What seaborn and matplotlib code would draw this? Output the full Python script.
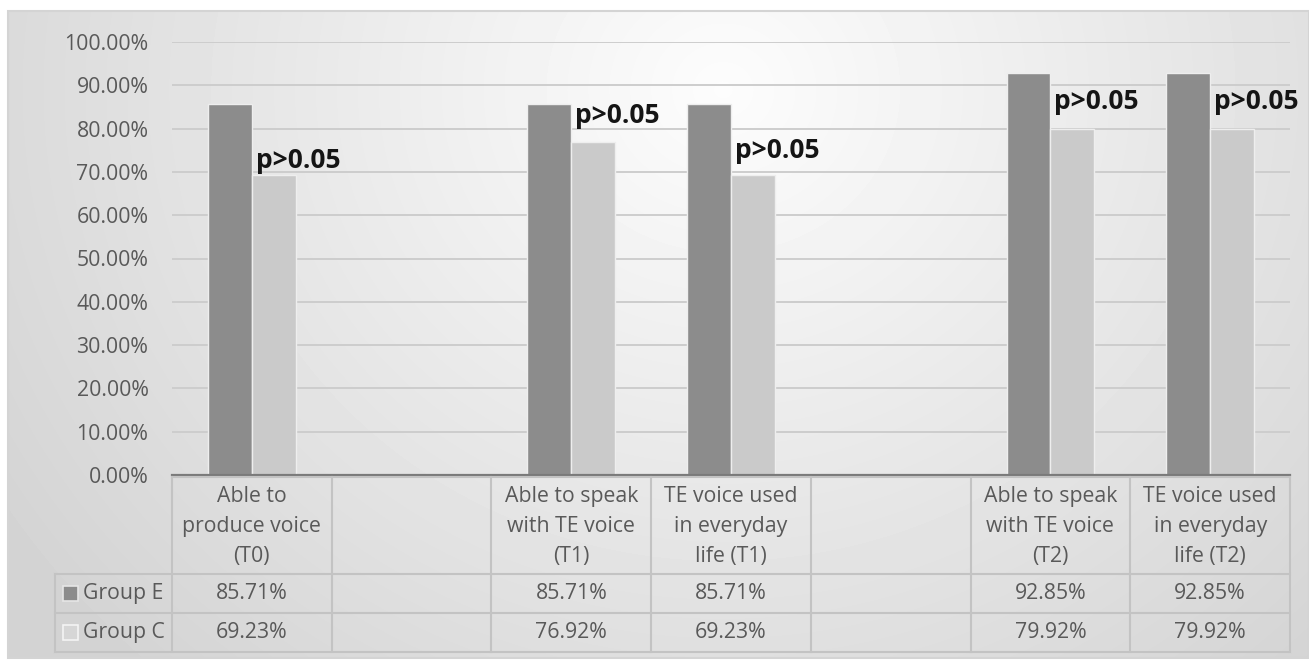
import numpy as np
import pandas as pd
import matplotlib
matplotlib.use("Agg")
import matplotlib.pyplot as plt
import matplotlib.transforms as mtransforms
from matplotlib.patches import Rectangle
from matplotlib.lines import Line2D
import seaborn as sns

# ---------------- data ----------------
categories = [
    "Able to\nproduce voice\n(T0)",
    "",
    "Able to speak\nwith TE voice\n(T1)",
    "TE voice used\nin everyday\nlife (T1)",
    " ",
    "Able to speak\nwith TE voice\n(T2)",
    "TE voice used\nin everyday\nlife (T2)",
]
real_categories = [categories[0], categories[2], categories[3], categories[5], categories[6]]
group_e = [0.8571, 0.8571, 0.8571, 0.9285, 0.9285]
group_c = [0.6923, 0.7692, 0.6923, 0.7992, 0.7992]
series_names = ["Group E", "Group C"]
p_labels = ["p>0.05", "p>0.05", "p>0.05", "p>0.05", "p>0.05"]
yticks = [0.0, 0.1, 0.2, 0.3, 0.4, 0.5, 0.6, 0.7, 0.8, 0.9, 1.0]

df = pd.DataFrame({
    "category": real_categories * 2,
    "group": [series_names[0]] * len(real_categories) + [series_names[1]] * len(real_categories),
    "value": group_e + group_c,
})

# ---------------- style ----------------
plt.rcParams["font.family"] = ["Open Sans", "DejaVu Sans"]
TXT = "#595959"
COL_E = "#8c8c8c"
COL_C = "#cacaca"
GRID = "#cdcdcd"
TABLE_LINE = "#c3c3c3"

W, H = 1309, 661
fig = plt.figure(figsize=(W / 100, H / 100), dpi=100)
fig.patch.set_facecolor("white")

def fx(x):
    return x / W

def fy(y):
    return 1 - y / H

# background radial gradient (chart area)
bg = fig.add_axes([fx(8), fy(658), fx(1301), (658 - 11) / H], zorder=-5)
gx, gy = np.meshgrid(np.linspace(0, 1, 400), np.linspace(0, 1, 200))
r = np.sqrt(((gx - 0.55) / 0.62) ** 2 + ((gy - 0.12) / 1.15) ** 2)
shade = np.clip(0.99 - 0.15 * r, 0.83, 0.99)
bg.imshow(shade, cmap="gray", vmin=0, vmax=1, aspect="auto",
          extent=[0, 1, 1, 0], interpolation="bilinear")
bg.set_xlim(0, 1)
bg.set_ylim(1, 0)
bg.axis("off")
bg.add_patch(Rectangle((0, 0), 1, 1, transform=bg.transAxes, fill=False,
                       edgecolor="#d4d4d4", lw=1.5, clip_on=False))

# main axes: left 172, right 1290, top(100%) 42, bottom(0%) 475
ax = fig.add_axes([fx(172), fy(475), fx(1290 - 172), (475 - 42) / H])
ax.set_facecolor("none")

sns.barplot(data=df, x="category", y="value", hue="group",
            order=categories, hue_order=series_names,
            palette=[COL_E, COL_C], width=0.55, gap=0,
            edgecolor="#eeeeee", linewidth=1.0, errorbar=None,
            legend=False, ax=ax, zorder=3)

ax.set_xlim(-0.5, len(categories) - 0.5)
ax.set_ylim(0, 1.0)
ax.set_yticks(yticks)
ax.set_yticklabels([f"{v:.2%}" for v in yticks])
ax.tick_params(axis="y", length=0, pad=17, labelsize=15.3, labelcolor=TXT)
ax.tick_params(axis="x", length=0, labelbottom=False)
ax.set_xlabel("")
ax.set_ylabel("")
ax.yaxis.grid(True, color=GRID, lw=1.4)
ax.xaxis.grid(False)
ax.set_axisbelow(True)
for s in ["top", "right", "left"]:
    ax.spines[s].set_visible(False)
ax.spines["bottom"].set_color("#7a7a7a")
ax.spines["bottom"].set_linewidth(1.6)
ax.spines["bottom"].set_zorder(4)

# p-value labels next to Group C bars
label_dy_px = [7, 19, 17, 20, 20]
bars_c = ax.containers[1]
for bar, lab, dy in zip(bars_c, p_labels, label_dy_px):
    ax.annotate(lab, (bar.get_x(), bar.get_height()),
                xytext=(4, dy), textcoords="offset pixels",
                ha="left", va="baseline", fontsize=19, fontweight="bold",
                color="#151515", zorder=6)

# ---------------- data table ----------------
tr = mtransforms.blended_transform_factory(ax.transData, fig.transFigure)
ftr = fig.transFigure
n = len(categories)
xb = [i - 0.5 for i in range(n + 1)]  # column boundaries in data units
y_top, y_hdr, y_e, y_c = 477, 574, 613, 652
lw_t = 1.5

def hline(y, x0_fig=None):
    x0 = fx(55) if x0_fig is None else x0_fig
    x1 = ftr.inverted().transform(ax.transData.transform((xb[-1], 0)))[0]
    fig.add_artist(Line2D([x0, x1], [fy(y), fy(y)], transform=ftr,
                          color=TABLE_LINE, lw=lw_t))

x_tab0 = ftr.inverted().transform(ax.transData.transform((xb[0], 0)))[0]
hline(y_top, x_tab0)
for y in (y_hdr, y_e, y_c):
    hline(y)
for b in xb:
    fig.add_artist(Line2D([b, b], [fy(y_top), fy(y_c)], transform=tr,
                          color=TABLE_LINE, lw=lw_t))
fig.add_artist(Line2D([fx(55), fx(55)], [fy(y_hdr), fy(y_c)], transform=ftr,
                      color=TABLE_LINE, lw=lw_t))

# header labels
for i, cat in enumerate(categories):
    if cat.strip():
        fig.text(i, fy((y_top + y_hdr) / 2 + 1), cat, transform=tr,
                 ha="center", va="center", fontsize=15.3, color=TXT,
                 linespacing=1.55)

# value rows
real_idx = [i for i, c in enumerate(categories) if c.strip()]
for vals, y0, y1 in ((group_e, y_hdr, y_e), (group_c, y_e, y_c)):
    yc = fy((y0 + y1) / 2)
    for i, v in zip(real_idx, vals):
        fig.text(i, yc, f"{v:.2%}", transform=tr, ha="center", va="center",
                 fontsize=15.3, color=TXT)

# legend keys in the table
for name, col, ec, y0, y1 in ((series_names[0], COL_E, "#e6e6e6", y_hdr, y_e),
                              (series_names[1], "#d6d6d6", "#f4f4f4", y_e, y_c)):
    yc = (y0 + y1) / 2
    fig.add_artist(Rectangle((fx(63), fy(yc + 7.5)), fx(15), 15 / H,
                             transform=ftr, facecolor=col, edgecolor=ec, lw=1.2))
    fig.text(fx(83), fy(yc), name, transform=ftr, ha="left", va="center",
             fontsize=15.3, color=TXT)

fig.savefig("out.png", dpi=100)
